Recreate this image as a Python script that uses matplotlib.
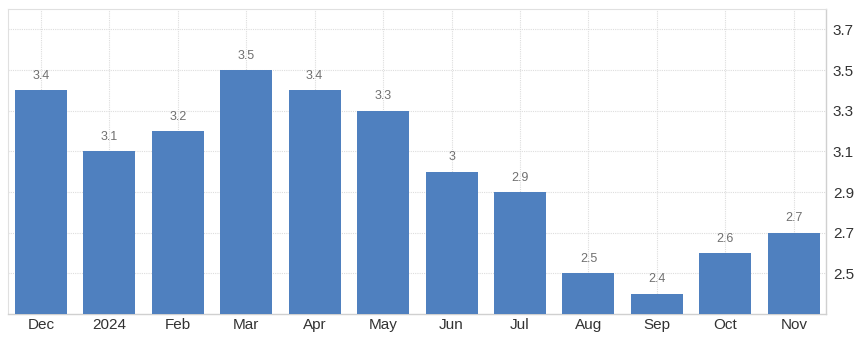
import matplotlib
matplotlib.use("Agg")
import matplotlib.pyplot as plt

categories = ["Dec", "2024", "Feb", "Mar", "Apr", "May", "Jun", "Jul", "Aug", "Sep", "Oct", "Nov"]
values = [3.4, 3.1, 3.2, 3.5, 3.4, 3.3, 3.0, 2.9, 2.5, 2.4, 2.6, 2.7]
labels = ["3.4", "3.1", "3.2", "3.5", "3.4", "3.3", "3", "2.9", "2.5", "2.4", "2.6", "2.7"]
yticks = [2.5, 2.7, 2.9, 3.1, 3.3, 3.5, 3.7]

plt.rcParams['font.family'] = ['Liberation Sans', 'DejaVu Sans']

fig = plt.figure(figsize=(8.6, 3.39), dpi=100)
ax = fig.add_axes([8/860, 25/339, (826-8)/860, (314-9)/339])

x = list(range(len(categories)))
bars = ax.bar(x, values, width=0.76, color="#4f80bf", zorder=3)
for xi, v, lab in zip(x, values, labels):
    ax.annotate(lab, (xi, v), xytext=(0, 6), textcoords="offset points",
                ha="center", va="bottom", fontsize=9, color="#707070", zorder=4)

ax.set_ylim(2.3, 3.8)
ax.set_xlim(-0.48, 11.47)
ax.set_yticks(yticks)
ax.set_yticklabels([f"{t:.1f}" for t in yticks])
ax.set_xticks(x)
ax.set_xticklabels(categories)
ax.yaxis.tick_right()
ax.tick_params(axis="y", length=0, labelsize=11, colors="#333333", pad=5)
ax.tick_params(axis="x", length=0, labelsize=11, colors="#333333", pad=3)

ax.grid(True, axis="both", color="#dddddd", linestyle=(0, (1, 1)), linewidth=0.8, zorder=0)
for s in ["top", "left"]:
    ax.spines[s].set_color("#e0e0e0")
    ax.spines[s].set_linestyle((0, (1, 1)))
    ax.spines[s].set_linewidth(0.8)
ax.spines["right"].set_color("#d0d0d0")
ax.spines["bottom"].set_color("#d0d0d0")
ax.spines["right"].set_linewidth(1)
ax.spines["bottom"].set_linewidth(1)

fig.savefig("out.png", dpi=100)
